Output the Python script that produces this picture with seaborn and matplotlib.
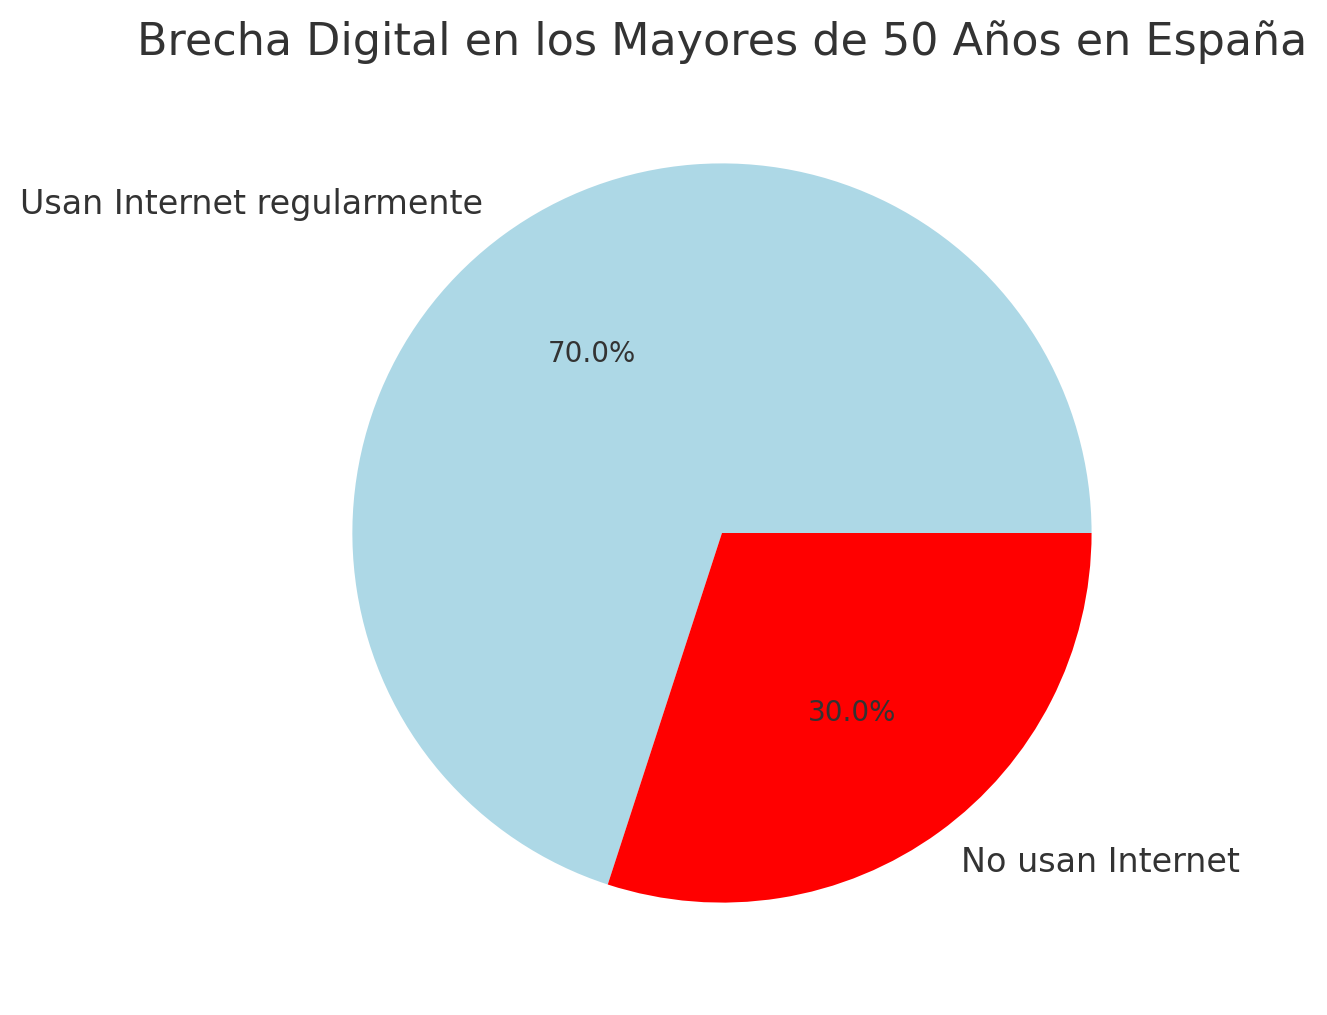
import matplotlib
matplotlib.use("Agg")
import matplotlib.pyplot as plt
import seaborn as sns

# --- DATA ---
categories = ["Usan Internet regularmente", "No usan Internet"]
shares = [70, 30]
slice_colors = ["lightblue", "red"]
title = "Brecha Digital en los Mayores de 50 Años en España"

sns.set_theme(style="white")
plt.rcParams["text.color"] = "#333333"

fig, ax = plt.subplots(figsize=(8, 6))
wedges, texts, autotexts = ax.pie(
    shares,
    labels=categories,
    colors=slice_colors,
    autopct="%1.1f%%",
    textprops={"fontsize": 12},
    wedgeprops={"linewidth": 0},
)
for t in autotexts:
    t.set_fontsize(10)

ax.set_title(title, fontsize=16)

fig.savefig("out.png", dpi=200, bbox_inches="tight")
